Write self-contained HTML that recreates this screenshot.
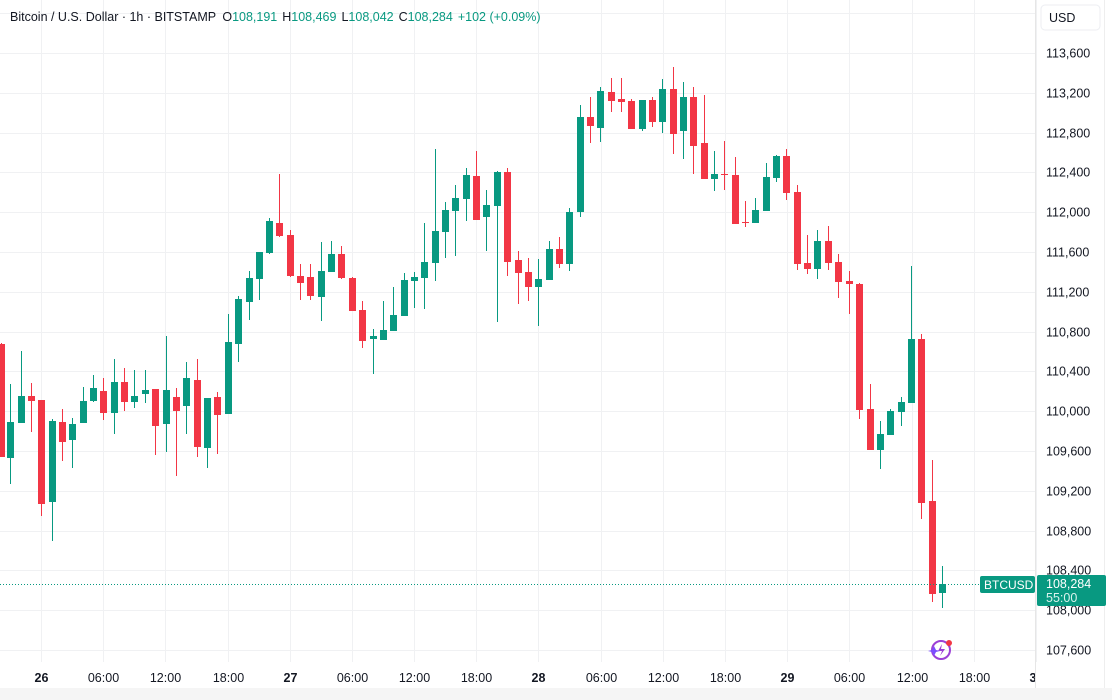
<!DOCTYPE html>
<html><head><meta charset="utf-8"><style>
html,body{margin:0;padding:0;background:#fff;width:1112px;height:700px;overflow:hidden}
svg{display:block;font-family:"Liberation Sans",Arial,sans-serif}
</style></head><body>
<svg id="s" width="1112" height="700" xmlns="http://www.w3.org/2000/svg">
<defs><clipPath id="cp"><rect x="0" y="0" width="1035" height="700"/></clipPath></defs>
<rect x="0" y="0" width="1112" height="700" fill="#fff"/>
<rect x="0" y="688" width="1112" height="12" fill="#f5f5f5"/>
<line x1="1104.5" y1="0" x2="1104.5" y2="688" stroke="#eeeeee"/>
<line x1="1035.5" y1="0" x2="1035.5" y2="688" stroke="#e6e6e6"/>
<g id="grid" stroke="#f0f1f3" stroke-width="1"></g>
<g id="ylab" font-size="12.5" fill="#131722"></g>
<g id="xlab" font-size="12.5" fill="#131722" clip-path="url(#cp)"></g>
<g id="c"></g>
<line x1="0" y1="584.5" x2="980" y2="584.5" stroke="#089981" stroke-dasharray="1,2"/>
<rect x="980" y="576" width="55" height="17" rx="2" fill="#089981"/>
<text x="984" y="589" font-size="12" fill="#fff">BTCUSD</text>
<rect x="1037" y="575" width="69" height="31" rx="2" fill="#089981"/>
<text x="1046" y="588" font-size="12.5" fill="#fff">108,284</text>
<text x="1046" y="602" font-size="12.5" fill="#d9f2ec">55:00</text>
<rect x="1041" y="5" width="59" height="25" rx="4" fill="#fff" stroke="#eceef2"/>
<text x="1049" y="22" font-size="12.5" fill="#131722">USD</text>
<text x="10" y="21" font-size="12.5" fill="#131722">Bitcoin / U.S. Dollar · 1h · BITSTAMP <tspan dx="3">O</tspan><tspan fill="#089981">108,191</tspan><tspan dx="5">H</tspan><tspan fill="#089981">108,469</tspan><tspan dx="5">L</tspan><tspan fill="#089981">108,042</tspan><tspan dx="5">C</tspan><tspan fill="#089981">108,284</tspan><tspan dx="5" fill="#089981">+102 (+0.09%)</tspan></text>
<g transform="translate(941,650)">
<circle cx="0" cy="0" r="9" fill="none" stroke="#9c3fd6" stroke-width="2"/>
<path d="M1,-6 L-3,1 L1,1 L-1,6 L4,-1 L0,-1 Z" fill="#9c3fd6"/>
<circle cx="8" cy="-7" r="3" fill="#f23645"/>
<path d="M-9,-2 L-7,2 L-3,3 L-7,4 L-9,8 L-11,4 L-15,3 L-11,2 Z" fill="#7b4dff" transform="translate(2,-2)"/>
</g>
</svg>
<script>
var NS="http://www.w3.org/2000/svg";
function el(t,a,p,txt){var e=document.createElementNS(NS,t);for(var k in a)e.setAttribute(k,a[k]);if(txt)e.textContent=txt;document.getElementById(p).appendChild(e);}
var yl=["113,600","113,200","112,800","112,400","112,000","111,600","111,200","110,800","110,400","110,000","109,600","109,200","108,800","108,400","108,000","107,600"];
for(var i=0;i<16;i++){var y=Math.round(53+i*39.8)+0.5;el("line",{x1:0,x2:1035,y1:y,y2:y},"grid");el("text",{x:1046,y:y+4},"ylab",yl[i]);}
el("line",{x1:0,x2:1035,y1:13.5,y2:13.5},"grid");
var xl=["26","06:00","12:00","18:00","27","06:00","12:00","18:00","28","06:00","12:00","18:00","29","06:00","12:00","18:00","30"];
for(var i=0;i<17;i++){var x=Math.round(41+i*62.18)+0.5;el("line",{x1:x,x2:x,y1:0,y2:662},"grid");
var bold=xl[i].length==2;el("text",{x:x,y:682,"text-anchor":"middle","font-weight":bold?"bold":"normal"},"xlab",xl[i]);}
var d=[[1,344,457,343,457,"r"],[10,422,458,384,484,"g"],[21,396,423,351,423,"g"],[31,396,401,383,432,"r"],[41,400,504,400,516,"r"],[52,421,502,419,541,"g"],[62,422,442,409,461,"r"],[72,424,440,418,468,"g"],[83,401,423,387,423,"g"],[93,388,401,375,402,"g"],[103,391,413,378,420,"r"],[114,382,413,359,434,"g"],[124,382,402,368,411,"r"],[134,396,402,370,408,"g"],[145,390,394,370,403,"g"],[155,389,426,389,455,"r"],[166,390,424,336,452,"g"],[176,397,411,388,476,"r"],[186,378,406,362,434,"g"],[197,380,447,359,457,"r"],[207,398,448,398,468,"g"],[217,397,415,392,454,"r"],[228,342,414,314,414,"g"],
[238,299,344,296,362,"g"],[249,278,302,271,320,"g"],[259,252,279,252,300,"g"],[269,221,253,218,254,"g"],[279,223,236,174,237,"r"],[290,235,276,230,277,"r"],[300,276,283,264,300,"r"],[310,277,296,264,300,"r"],[321,271,297,242,321,"g"],[331,254,272,241,272,"g"],[341,254,278,246,279,"r"],[352,278,311,277,311,"r"],[362,310,341,301,348,"r"],[373,336,339,329,374,"g"],[383,330,340,301,340,"g"],[393,315,331,287,331,"g"],[404,280,316,273,316,"g"],[414,277,281,272,308,"g"],[424,262,278,223,309,"g"],[435,231,263,149,281,"g"],[445,210,232,202,258,"g"],[455,198,211,185,256,"g"],[466,175,199,168,221,"g"],[476,176,220,151,220,"r"],[486,205,217,190,251,"g"],[497,172,206,171,322,"g"],[507,172,262,168,276,"r"],[518,260,273,251,304,"r"],[528,272,287,258,301,"r"],[538,279,287,259,326,"g"],[549,249,280,241,280,"g"],[559,249,264,237,268,"r"],[569,212,264,208,271,"g"],
[580,117,212,105,217,"g"],[590,117,126,97,143,"r"],[600,91,128,87,142,"g"],[611,92,101,78,112,"r"],[621,99,102,78,112,"r"],[631,101,129,99,129,"r"],[642,100,129,100,131,"g"],[652,100,122,97,127,"r"],[662,89,122,79,133,"g"],[673,89,134,67,154,"r"],[683,97,131,82,159,"g"],[693,97,146,87,174,"r"],[704,143,179,95,179,"r"],[714,174,179,151,191,"g"],[724,174,175,141,190,"r"],[735,175,224,157,224,"r"],[745,222,223,201,227,"r"],[755,210,223,198,223,"g"],[766,177,211,163,211,"g"],[776,156,178,155,182,"g"],[786,156,193,149,200,"r"],[797,192,264,185,270,"r"],[807,263,269,235,274,"r"],[817,241,269,230,279,"g"],[828,241,263,226,270,"r"],[838,262,282,254,298,"r"],[849,281,284,271,314,"r"],
[859,284,410,283,419,"r"],[870,409,450,384,450,"r"],[880,434,450,421,469,"g"],[890,411,435,409,435,"g"],[901,402,412,397,426,"g"],[911,339,403,266,403,"g"],[921,339,503,334,519,"r"],[932,501,594,460,602,"r"],[942,584,593,566,608,"g"]];
for(var i=0;i<d.length;i++){var c=d[i],col=c[5]=="g"?"#089981":"#f23645";
el("rect",{x:c[0],y:c[3],width:1,height:Math.max(1,c[4]-c[3]),fill:col},"c");
el("rect",{x:c[0]-3,y:c[1],width:7,height:Math.max(1,c[2]-c[1]),fill:col},"c");}
</script>
</body></html>
